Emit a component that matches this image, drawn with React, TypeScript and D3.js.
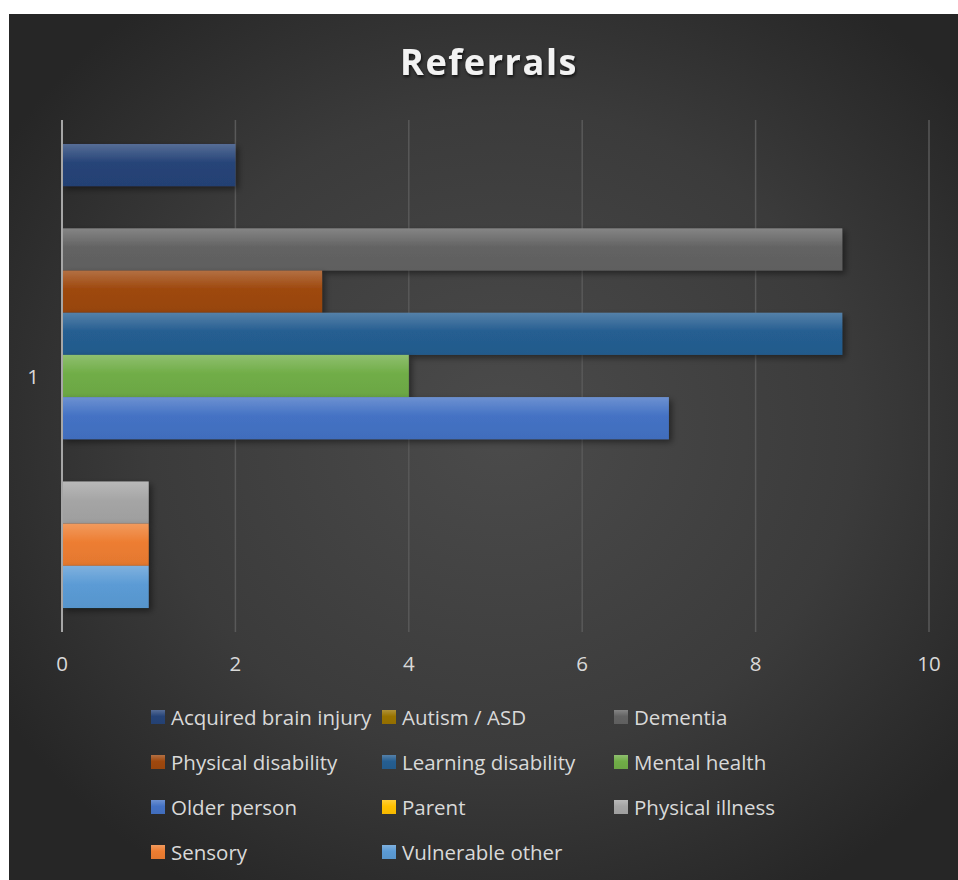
import React from "react";
import * as d3 from "d3";

const categories = ["1"];
const seriesNames = [
  "Acquired brain injury",
  "Autism / ASD",
  "Dementia",
  "Physical disability",
  "Learning disability",
  "Mental health",
  "Older person",
  "Parent",
  "Physical illness",
  "Sensory",
  "Vulnerable other",
];
const seriesValues = [2, 0, 9, 3, 9, 4, 7, 0, 1, 1, 1];
const seriesColors = [
  "#264478",
  "#997300",
  "#636363",
  "#9E480E",
  "#255E91",
  "#70AD47",
  "#4472C4",
  "#FFC000",
  "#A5A5A5",
  "#ED7D31",
  "#5B9BD5",
];
const xTicks = [0, 2, 4, 6, 8, 10];

const W = 958;
const H = 880;
const FONT = "'Open Sans', 'Noto Sans', sans-serif";

export default function App() {
  const plot = { left: 62, right: 929, top: 120, bottom: 632 };
  const x = d3.scaleLinear().domain([0, 10]).range([plot.left, plot.right]);
  const yCat = d3
    .scaleBand<string>()
    .domain(categories)
    .range([plot.top, plot.bottom])
    .paddingInner(0)
    .paddingOuter(0.0517);
  const ySer = d3
    .scaleBand<string>()
    .domain(seriesNames)
    .range([0, yCat.bandwidth()])
    .padding(0);

  const legendCols = [151, 382, 614];
  const legendRows = [717, 762, 807, 852];

  return (
    <svg
      width={W}
      height={H}
      style={{ position: "absolute", left: 0, top: 0, display: "block" }}
    >
      <defs>
        <radialGradient id="bg" cx="52%" cy="48%" r="62%">
          <stop offset="0%" stopColor="#4b4b4b" />
          <stop offset="60%" stopColor="#3b3b3b" />
          <stop offset="100%" stopColor="#262626" />
        </radialGradient>
        {seriesColors.map((c, i) => {
          const light = d3.interpolateRgb(c, "#ffffff")(0.22);
          const dark = d3.color(c)!.darker(0.12).formatHex();
          return (
            <linearGradient key={i} id={`g${i}`} x1="0" y1="0" x2="0" y2="1">
              <stop offset="0%" stopColor={light} />
              <stop offset="45%" stopColor={c} />
              <stop offset="100%" stopColor={dark} />
            </linearGradient>
          );
        })}
        <filter id="shadow" x="-10%" y="-30%" width="130%" height="180%">
          <feDropShadow dx="3" dy="3" stdDeviation="3" floodColor="#000" floodOpacity="0.45" />
        </filter>
        <filter id="tshadow" x="-10%" y="-30%" width="130%" height="180%">
          <feDropShadow dx="1" dy="2" stdDeviation="1.5" floodColor="#000" floodOpacity="0.7" />
        </filter>
      </defs>
      <rect x={0} y={0} width={W} height={H} fill="#ffffff" />
      <rect x={9} y={14} width={W - 9} height={H - 14} fill="url(#bg)" />

      <text
        x={489}
        y={75}
        textAnchor="middle"
        fill="#f2f2f2"
        fontFamily={FONT}
        fontWeight={700}
        fontSize={36}
        letterSpacing={1.6}
        filter="url(#tshadow)"
      >
        Referrals
      </text>

      {xTicks.map((t) => (
        <line
          key={t}
          x1={x(t)}
          x2={x(t)}
          y1={plot.top}
          y2={plot.bottom}
          stroke="#595959"
          strokeWidth={1.5}
        />
      ))}

      {categories.map((cat) => (
        <g key={cat} transform={`translate(0,${yCat(cat)})`}>
          {seriesNames.map((s, i) =>
            seriesValues[i] > 0 ? (
              <rect
                key={s}
                x={x(0)}
                y={ySer(s)}
                width={x(seriesValues[i]) - x(0)}
                height={ySer.bandwidth()}
                fill={`url(#g${i})`}
                filter="url(#shadow)"
              />
            ) : null
          )}
        </g>
      ))}

      <line
        x1={x(0)}
        x2={x(0)}
        y1={plot.top}
        y2={plot.bottom}
        stroke="#a6a6a6"
        strokeWidth={2}
      />

      {xTicks.map((t) => (
        <text
          key={t}
          x={x(t)}
          y={671}
          textAnchor="middle"
          fill="#d9d9d9"
          fontFamily={FONT}
          fontSize={20.5}
        >
          {t}
        </text>
      ))}

      {categories.map((cat) => (
        <text
          key={cat}
          x={33}
          y={(yCat(cat) ?? 0) + yCat.bandwidth() / 2 + 8}
          textAnchor="middle"
          fill="#d9d9d9"
          fontFamily={FONT}
          fontSize={20.5}
        >
          {cat}
        </text>
      ))}

      {seriesNames.map((s, i) => {
        const cx = legendCols[i % 3];
        const cy = legendRows[Math.floor(i / 3)];
        return (
          <g key={s}>
            <rect x={cx} y={cy - 7} width={14} height={14} fill={`url(#g${i})`} />
            <text
              x={cx + 20}
              y={cy + 7.5}
              fill="#d9d9d9"
              fontFamily={FONT}
              fontSize={20.5}
            >
              {s}
            </text>
          </g>
        );
      })}
    </svg>
  );
}
